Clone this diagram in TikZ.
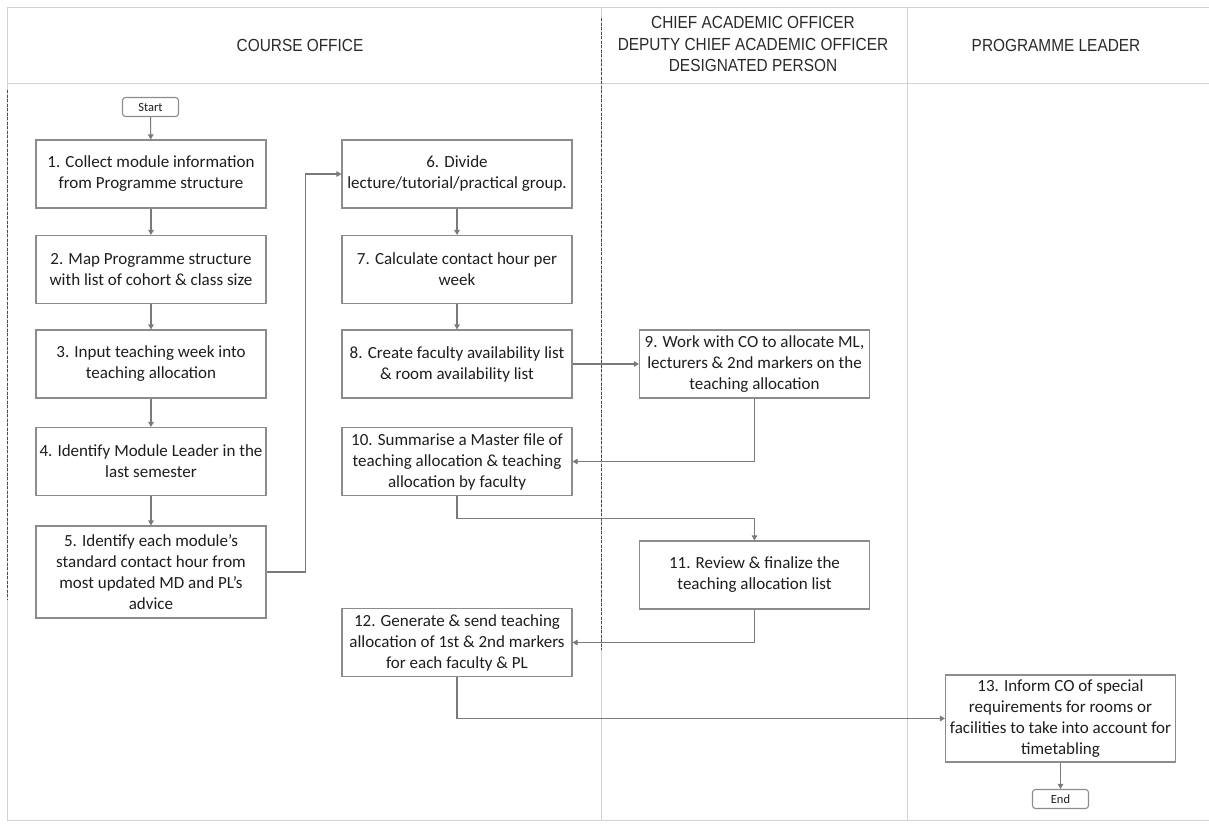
\documentclass[tikz,border=0pt]{standalone}
\usepackage{fontspec}
\setmainfont{Carlito}
\newfontfamily\headfont[FakeStretch=0.88]{Liberation Sans}
\usetikzlibrary{arrows.meta}
\definecolor{boxgray}{HTML}{8C8C8C}
\definecolor{linegray}{HTML}{7A7A7A}
\definecolor{framegray}{HTML}{D2D2D2}
\definecolor{textdark}{HTML}{1E1E1E}
\definecolor{headtext}{HTML}{2A2A2A}
\begin{document}
\begin{tikzpicture}[x=1pt,y=-1pt,
  stepbox/.style={draw=boxgray, line width=1.1pt, fill=white,
    minimum width=230pt, minimum height=68pt, inner sep=2pt,
    align=center, text=textdark, font=\fontsize{17}{21}\selectfont},
  termbox/.style={draw=boxgray, line width=1.1pt, fill=white, rounded corners=3pt,
    minimum width=56pt, minimum height=19pt, inner sep=1pt,
    text=textdark, font=\fontsize{12.5}{14}\selectfont},
  lanehead/.style={align=center, text=headtext,
    font=\headfont\fontsize{17.5}{21.5}\selectfont},
  flow/.style={draw=linegray, line width=1.1pt,
    -{Triangle[width=5.5pt,length=5pt]}},
  frame/.style={draw=framegray, line width=1pt},
  darkrule/.style={draw=black!70, line width=0.9pt, dash pattern=on 3pt off 1.5pt}
]
\useasboundingbox (0,0) rectangle (1209,825);

% swimlane frame and dividers
\draw[frame] (7,7) -- (1209,7);
\draw[frame] (7,83) -- (1209,83);
\draw[frame] (7,7) -- (7,820) -- (1209,820);
\draw[frame] (601,7) -- (601,820);
\draw[frame] (907,7) -- (907,820);
\draw[darkrule] (601,18) -- (601,650);
\draw[darkrule] (7,90) -- (7,600);

% lane headings
\node[lanehead] (hco) at (300,45) {COURSE OFFICE};
\node[lanehead] (hcao) at (753,44) {CHIEF ACADEMIC OFFICER\\DEPUTY CHIEF ACADEMIC OFFICER\\DESIGNATED PERSON};
\node[lanehead] (hpl) at (1056,45) {PROGRAMME LEADER};

% course office, first column
\node[termbox] (start) at (150.5,107) {Start};
\node[stepbox] (s1) at (151,174) {1. Collect module information\\from Programme structure};
\node[stepbox] (s2) at (151,269.5) {2. Map Programme structure\\with list of cohort \& class size};
\node[stepbox] (s3) at (151,364) {3. Input teaching week into\\teaching allocation};
\node[stepbox] (s4) at (151,461.5) {4. Identify Module Leader in the\\last semester};
\node[stepbox, minimum height=92pt] (s5) at (151,572) {5. Identify each module's\\standard contact hour from\\most updated MD and PL's\\advice};

% course office, second column
\node[stepbox] (s6) at (457,174) {6. Divide\\lecture/tutorial/practical group.};
\node[stepbox] (s7) at (457,269.5) {7. Calculate contact hour per\\week};
\node[stepbox] (s8) at (457,364) {8. Create faculty availability list\\\& room availability list};
\node[stepbox] (s10) at (457,461.5) {10. Summarise a Master file of\\teaching allocation \& teaching\\allocation by faculty};
\node[stepbox] (s12) at (457,642.5) {12. Generate \& send teaching\\allocation of 1st \& 2nd markers\\for each faculty \& PL};

% chief academic officer lane
\node[stepbox] (s9) at (754.5,364) {9. Work with CO to allocate ML,\\lecturers \& 2nd markers on the\\teaching allocation};
\node[stepbox] (s11) at (754.5,575) {11. Review \& finalize the\\teaching allocation list};

% programme leader lane
\node[stepbox, minimum height=87pt] (s13) at (1060.5,718.5) {13. Inform CO of special\\requirements for rooms or\\facilities to take into account for\\timetabling};
\node[termbox] (end) at (1060.5,799) {End};

% connectors
\draw[flow] (start) -- (s1);
\draw[flow] (s1) -- (s2);
\draw[flow] (s2) -- (s3);
\draw[flow] (s3) -- (s4);
\draw[flow] (s4) -- (s5);
\draw[flow] (s5.east) -- ++(39,0) |- (s6.west);
\draw[flow] (s6) -- (s7);
\draw[flow] (s7) -- (s8);
\draw[flow] (s8) -- (s9);
\draw[flow] (s9.south) |- (s10.east);
\draw[flow] (s10.south) -- ++(0,22) -| (s11.north);
\draw[flow] (s11.south) |- (s12.east);
\draw[flow] (s12.south) |- (s13.west);
\draw[flow] (s13) -- (end);
\end{tikzpicture}
\end{document}
